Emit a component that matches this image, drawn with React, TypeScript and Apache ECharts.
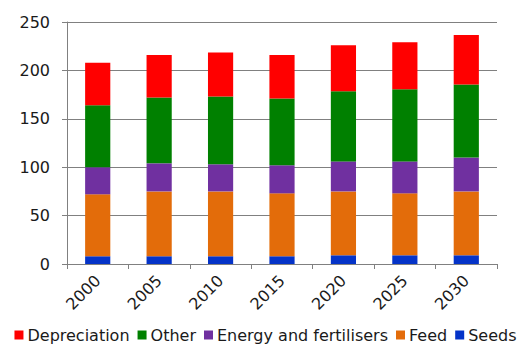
import React, { useEffect, useRef } from "react";
import * as echarts from "echarts";

const categories = ["2000", "2005", "2010", "2015", "2020", "2025", "2030"];
const seeds = [8, 8, 8, 8, 9, 9, 9];
const feed = [64, 67, 67, 65, 66, 64, 66];
const energy = [28, 29, 28, 29, 31, 33, 35];
const other = [64, 68, 70, 69, 72.5, 74.5, 75.5];
const depreciation = [44, 44, 45.5, 45, 47.5, 48.6, 51];
const yTicks = [0, 50, 100, 150, 200, 250];

const FONT = "'DejaVu Sans', Verdana, sans-serif";

export default function App() {
  const ref = useRef<HTMLDivElement>(null);
  useEffect(() => {
    if (!ref.current) return;
    const chart = echarts.init(ref.current, undefined, { renderer: "svg" });
    const mk = (name: string, data: number[], color: string) => ({
      name,
      type: "bar",
      stack: "total",
      data,
      barWidth: "41%",
      itemStyle: { color },
    });
    chart.setOption({
      animation: false,
      textStyle: { fontFamily: FONT },
      grid: { left: 67, right: 34, top: 22, bottom: 90 },
      legend: {
        data: ["Depreciation", "Other", "Energy and fertilisers", "Feed", "Seeds"],
        bottom: 6,
        left: "center",
        itemWidth: 9,
        itemHeight: 9,
        itemGap: 8,
        icon: "rect",
        textStyle: { fontSize: 16, color: "#1a1a1a", fontFamily: FONT, padding: [0, 0, 0, -1] },
      },
      xAxis: {
        type: "category",
        data: categories,
        axisLine: { lineStyle: { color: "#808080" } },
        axisTick: { show: true, length: 5, alignWithLabel: false, lineStyle: { color: "#808080" } },
        axisLabel: { rotate: 45, fontSize: 16, color: "#1a1a1a", margin: 14, fontFamily: FONT },
      },
      yAxis: {
        type: "value",
        min: yTicks[0],
        max: yTicks[yTicks.length - 1],
        interval: 50,
        axisLine: { show: true, lineStyle: { color: "#808080" } },
        axisTick: { show: true, length: 5, lineStyle: { color: "#808080" } },
        splitLine: { lineStyle: { color: "#808080" } },
        axisLabel: { fontSize: 16, color: "#1a1a1a", margin: 17, fontFamily: FONT },
      },
      series: [
        mk("Seeds", seeds, "#0433C8"),
        mk("Feed", feed, "#E36C0A"),
        mk("Energy and fertilisers", energy, "#7030A0"),
        mk("Other", other, "#008000"),
        mk("Depreciation", depreciation, "#FF0000"),
      ],
    });
    return () => chart.dispose();
  }, []);
  return (
    <div
      ref={ref}
      style={{ position: "absolute", left: 0, top: 0, width: 531, height: 354, background: "#fff" }}
    />
  );
}
